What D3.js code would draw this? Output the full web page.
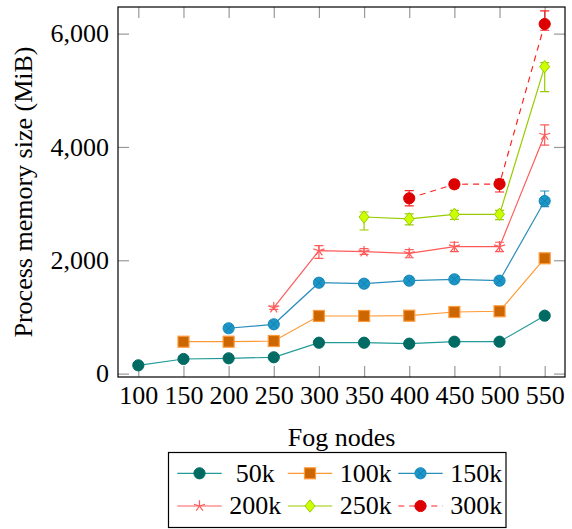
<!DOCTYPE html>
<html><head><meta charset="utf-8">
<script src="https://cdn.jsdelivr.net/npm/d3@7"></script>
<style>
html,body{margin:0;padding:0;background:#fff;}
svg text{font-family:"Liberation Serif","Times New Roman",serif !important;fill:#000;}
</style></head>
<body><svg id="c" width="572" height="529"></svg>
<script>
// ---- data ----
const fogNodes = [100,150,200,250,300,350,400,450,500,550];
const seriesNames = ["50k","100k","150k","200k","250k","300k"];
const mem50k  = [146,258,270,288,545,545,528,563,563,1022];
const mem100k = [null,563,563,575,1017,1017,1022,1087,1100,2035];
const mem150k = [null,null,800,870,1604,1587,1640,1664,1640,3046];
const mem200k = [null,null,null,1163,2169,2151,2123,2240,2240,4211];
const mem250k = [null,null,null,null,null,2764,2730,2811,2811,5417];
const mem300k = [null,null,null,null,null,null,3094,3341,3346,6170];
const errUp50k   = [20,20,20,20,20,20,20,20,20,30];
const errDn50k   = [20,20,20,20,20,20,20,20,20,30];
const errUp100k  = [null,20,20,20,25,25,25,25,25,30];
const errDn100k  = [null,20,20,20,25,25,25,25,25,30];
const errUp150k  = [null,null,30,30,40,40,40,40,40,177];
const errDn150k  = [null,null,30,30,40,40,40,40,40,100];
const errUp200k  = [null,null,null,30,88,53,64,78,78,177];
const errDn200k  = [null,null,null,30,134,48,78,88,88,177];
const errUp250k  = [null,null,null,null,null,88,88,70,70,70];
const errDn250k  = [null,null,null,null,null,230,106,88,94,442];
const errUp300k  = [null,null,null,null,null,null,134,70,83,230];
const errDn300k  = [null,null,null,null,null,null,134,70,141,110];
const yTicks = [0,2000,4000,6000];

const FONT = "'Liberation Serif','Times New Roman',serif";
const styles = [
  {line:"#229b97", fill:"#006b63", stroke:"#006b63", mark:"circle", dash:null},
  {line:"#ff9933", fill:"#cc6600", stroke:"#ff9a3c", mark:"square", dash:null},
  {line:"#2a8fbb", fill:"#1a96c8", stroke:"#1a88b8", mark:"otimes", dash:null},
  {line:"#ff5a5a", fill:"none", stroke:"#ff5a5a", mark:"star", dash:null},
  {line:"#99cc00", fill:"#ccff00", stroke:"#99cc00", mark:"diamond", dash:null},
  {line:"#ff2222", fill:"#dd0000", stroke:"#dd0000", mark:"circle", dash:"6,5"}
];
const values = [mem50k,mem100k,mem150k,mem200k,mem250k,mem300k];
const ups = [errUp50k,errUp100k,errUp150k,errUp200k,errUp250k,errUp300k];
const dns = [errDn50k,errDn100k,errDn150k,errDn200k,errDn250k,errDn300k];

const series = seriesNames.map((n,i)=>({
  name:n, style:styles[i],
  pts: fogNodes.map((x,j)=>({x, y:values[i][j], up:ups[i][j], dn:dns[i][j]})).filter(p=>p.y!=null)
}));

// ---- layout ----
const L=118, R=565, T=7, B=377;
const x = d3.scaleLinear().domain([77.5,572.5]).range([L,R]);
const y = d3.scaleLinear().domain([-60,6470]).range([B,T]);
const svg = d3.select("#c");

const tickCol = "#999";
const ax = [
  svg.append("g").attr("transform",`translate(0,${B})`)
    .call(d3.axisBottom(x).tickValues(fogNodes).tickSizeInner(-11).tickSizeOuter(0).tickPadding(9).tickFormat(d3.format("d"))),
  svg.append("g").attr("transform",`translate(0,${T})`)
    .call(d3.axisTop(x).tickValues(fogNodes).tickSizeInner(-11).tickSizeOuter(0).tickFormat("")),
  svg.append("g").attr("transform",`translate(${L},0)`)
    .call(d3.axisLeft(y).tickValues(yTicks).tickSizeInner(-11).tickSizeOuter(0).tickPadding(9).tickFormat(d3.format(","))),
  svg.append("g").attr("transform",`translate(${R},0)`)
    .call(d3.axisRight(y).tickValues(yTicks).tickSizeInner(-11).tickSizeOuter(0).tickFormat(""))
];
ax.forEach(g=>{
  g.attr("font-family",null).attr("font-size",null);
  g.select(".domain").remove();
  g.selectAll(".tick line").attr("stroke",tickCol).attr("stroke-width",1.2);
  g.selectAll(".tick text").style("font-size","26px").style("font-family",FONT).attr("fill","#000");
});

svg.append("rect").attr("x",L).attr("y",T).attr("width",R-L).attr("height",B-T)
  .attr("fill","none").attr("stroke","#000").attr("stroke-width",1.2);

svg.append("text").attr("x",(L+R)/2).attr("y",446).attr("text-anchor","middle")
  .style("font-size","26px").style("font-family",FONT).text("Fog nodes");
svg.append("text").attr("transform",`translate(32,${(T+B)/2}) rotate(-90)`).attr("text-anchor","middle")
  .style("font-size","26px").style("font-family",FONT).text("Process memory size (MiB)");

function drawMarker(g, st, cx, cy){
  const m = st.mark;
  if(m==="circle"){
    g.append("circle").attr("cx",cx).attr("cy",cy).attr("r",5.6).attr("fill",st.fill).attr("stroke",st.stroke).attr("stroke-width",1);
  } else if(m==="square"){
    g.append("rect").attr("x",cx-5.5).attr("y",cy-5.5).attr("width",11).attr("height",11).attr("fill",st.fill).attr("stroke",st.stroke).attr("stroke-width",1.2);
  } else if(m==="otimes"){
    g.append("circle").attr("cx",cx).attr("cy",cy).attr("r",5.6).attr("fill",st.fill).attr("stroke",st.stroke).attr("stroke-width",1);
    const d=3.9;
    g.append("path").attr("d",`M${cx-d},${cy-d}L${cx+d},${cy+d}M${cx-d},${cy+d}L${cx+d},${cy-d}`).attr("stroke","#1580ad").attr("stroke-width",1);
  } else if(m==="star"){
    let p=""; const r=5.8;
    for(let k=0;k<5;k++){const a=-Math.PI/2+k*2*Math.PI/5; p+=`M${cx},${cy}L${cx+r*Math.cos(a)},${cy+r*Math.sin(a)}`;}
    g.append("path").attr("d",p).attr("stroke",st.stroke).attr("stroke-width",1.2).attr("fill","none");
  } else if(m==="diamond"){
    g.append("path").attr("d",`M${cx},${cy-6.2}L${cx+5},${cy}L${cx},${cy+6.2}L${cx-5},${cy}Z`).attr("fill",st.fill).attr("stroke",st.stroke).attr("stroke-width",1);
  }
}

const line = d3.line().x(d=>x(d.x)).y(d=>y(d.y));
series.forEach(s=>{
  const g = svg.append("g");
  g.append("path").datum(s.pts).attr("d",line).attr("fill","none")
    .attr("stroke",s.style.line).attr("stroke-width",1.2).attr("stroke-dasharray",s.style.dash);
  s.pts.forEach(p=>{
    const cx=x(p.x), y1=y(p.y+p.up), y2=y(p.y-p.dn);
    g.append("path").attr("d",`M${cx},${y1}L${cx},${y2}M${cx-4.5},${y1}L${cx+4.5},${y1}M${cx-4.5},${y2}L${cx+4.5},${y2}`)
      .attr("stroke",s.style.line).attr("stroke-width",1.2).attr("fill","none");
  });
  s.pts.forEach(p=>drawMarker(g,s.style,x(p.x),y(p.y)));
});

const lg = svg.append("g");
lg.append("rect").attr("x",168.5).attr("y",452.5).attr("width",337.5).attr("height",75)
  .attr("fill","#fff").attr("stroke","#000").attr("stroke-width",1.2);
const colX = [177.3, 287.8, 398.3];
const rowY = [473.3, 506];
series.forEach((s,i)=>{
  const cx0 = colX[i%3], cy = rowY[Math.floor(i/3)];
  lg.append("path").attr("d",`M${cx0},${cy}L${cx0+44.4},${cy}`).attr("stroke",s.style.line)
    .attr("stroke-width",1.2).attr("stroke-dasharray",s.style.dash);
  drawMarker(lg,s.style,cx0+22.2,cy);
  lg.append("text").attr("x",cx0+78).attr("y",cy+8.3).attr("text-anchor","middle")
    .style("font-size","26px").style("font-family",FONT).text(s.name);
});
</script></body></html>
